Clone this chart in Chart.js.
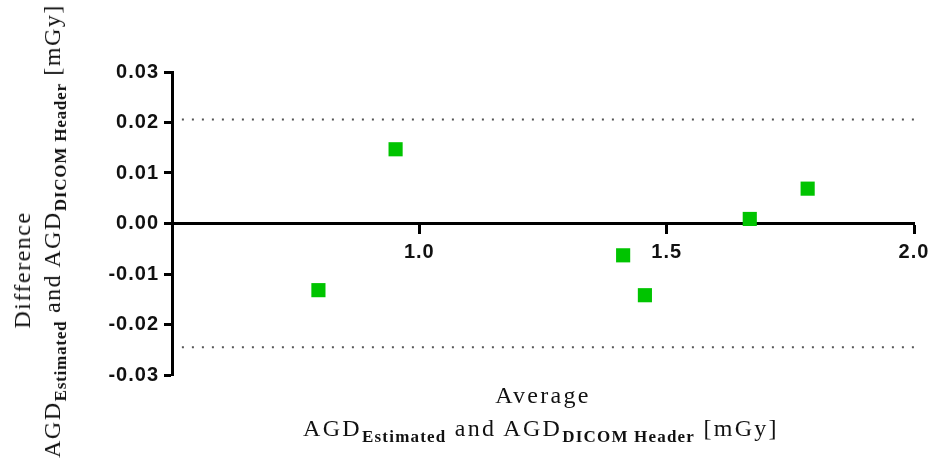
<!DOCTYPE html>
<html>
<head>
<meta charset="utf-8">
<script src="https://cdn.jsdelivr.net/npm/chart.js@4.4.1/dist/chart.umd.min.js"></script>
<style>
  html, body { margin: 0; padding: 0; background: #fff; }
  #wrap { position: relative; width: 930px; height: 465px; overflow: hidden; }
  canvas { position: absolute; left: 0; top: 0; }
  .title {
    position: absolute;
    white-space: nowrap;
    font-family: "Liberation Serif", "DejaVu Serif", serif;
    font-size: 24px;
    letter-spacing: 1.5px;
    color: #111;
    transform: translate(-50%, -50%);
    line-height: 1;
  }
  .title.rot { transform: translate(-50%, -50%) rotate(-90deg); }
  .title .sub {
    font-size: 17px;
    font-weight: bold;
    letter-spacing: 0.8px;
    position: relative;
    top: 6px;
  }
  .title.wide { letter-spacing: 2.3px; }
  .title.wide .sub { letter-spacing: 1.2px; }
</style>
</head>
<body>
<div id="wrap">
  <canvas id="chart" width="930" height="465"></canvas>
  <div class="title wide" style="left:543px; top:395px;">Average</div>
  <div class="title wide" style="left:541px; top:428px;">AGD<span class="sub">Estimated</span> and AGD<span class="sub">DICOM Header</span> [mGy]</div>
  <div class="title rot" style="left:22px; top:270px;">Difference</div>
  <div class="title rot" style="left:52px; top:231px;">AGD<span class="sub">Estimated</span> and AGD<span class="sub">DICOM Header</span> [mGy]</div>
</div>
<script>
// mean of the two methods (x) and their difference (y)
const meanValues = [0.796, 0.952, 1.412, 1.456, 1.668, 1.785];
const diffValues = [-0.0132, 0.0147, -0.0063, -0.0142, 0.0009, 0.0069];

// limits of agreement
const upperLimit = 0.0206;
const lowerLimit = -0.0245;
const limitSpan = [0.52, 2.0];

// axes
const xTickValues = [1.0, 1.5, 2.0];
const xRange = [0.5, 2.0];
const yRange = [-0.03, 0.03];
const yStep = 0.01;

const pointData = meanValues.map((m, i) => ({ x: m, y: diffValues[i] }));
const limitLine = v => limitSpan.map(x => ({ x: x, y: v }));

const tickFont = { family: '"Liberation Sans", Arial, sans-serif', size: 20, weight: 'bold' };

const spacingPlugin = {
  id: 'spacing',
  beforeDraw(chart) { chart.ctx.letterSpacing = '1px'; },
  afterDraw(chart) { chart.ctx.letterSpacing = '0px'; }
};

new Chart(document.getElementById('chart'), {
  type: 'scatter',
  data: {
    datasets: [
      {
        label: 'Upper limit',
        type: 'line',
        data: limitLine(upperLimit),
        borderColor: '#555',
        borderWidth: 2,
        borderDash: [2, 8],
        pointRadius: 0,
        fill: false
      },
      {
        label: 'Lower limit',
        type: 'line',
        data: limitLine(lowerLimit),
        borderColor: '#555',
        borderWidth: 2,
        borderDash: [2, 8],
        pointRadius: 0,
        fill: false
      },
      {
        label: 'Difference',
        data: pointData,
        pointStyle: 'rect',
        pointRadius: 10,
        pointBorderWidth: 0,
        backgroundColor: '#00c400',
        borderColor: '#00c400'
      }
    ]
  },
  options: {
    responsive: false,
    animation: false,
    layout: { padding: { left: 72, top: 72, right: 16, bottom: 90 } },
    plugins: { legend: { display: false }, tooltip: { enabled: false } },
    scales: {
      x: {
        type: 'linear',
        position: { y: 0 },
        min: xRange[0],
        max: xRange[1],
        afterBuildTicks: s => { s.ticks = xTickValues.map(v => ({ value: v })); },
        afterFit: s => { s.paddingLeft = 0; s.paddingRight = 0; },
        grid: { display: true, drawOnChartArea: false, color: '#000', tickLength: 9, tickWidth: 3 },
        border: { display: true, color: '#000', width: 3 },
        ticks: {
          color: '#111',
          font: tickFont,
          padding: 8,
          maxRotation: 0,
          callback: v => Number(v).toFixed(1)
        }
      },
      y: {
        type: 'linear',
        min: yRange[0],
        max: yRange[1],
        afterFit: s => { s.width = 100; },
        grid: { display: true, drawOnChartArea: false, color: '#000', tickLength: 8, tickWidth: 3 },
        border: { display: true, color: '#000', width: 3 },
        ticks: {
          stepSize: yStep,
          color: '#111',
          font: tickFont,
          padding: 5,
          callback: v => (Math.abs(v) < 1e-9 ? 0 : v).toFixed(2)
        }
      }
    }
  },
  plugins: [spacingPlugin]
});
</script>
</body>
</html>
